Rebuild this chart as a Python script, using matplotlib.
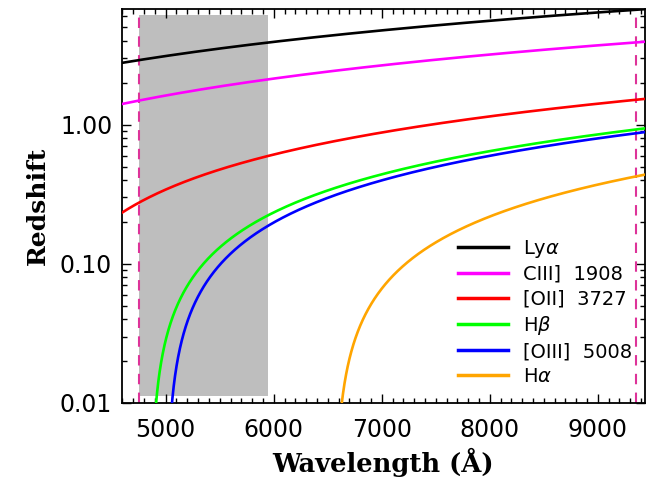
import numpy as np
import matplotlib
matplotlib.use("Agg")
import matplotlib.pyplot as plt
from matplotlib.ticker import FixedLocator, LogLocator, NullFormatter, FuncFormatter

# ---- data ----
line_labels = [r"Ly$\alpha$", "CIII]  1908", "[OII]  3727", r"H$\beta$", "[OIII]  5008", r"H$\alpha$"]
rest_wavelengths = [1215.67, 1908.73, 3727.09, 4862.68, 5008.24, 6564.61]
line_colors = ["black", "#FF00FF", "#FF0000", "#00FF00", "#0000FF", "#FFA500"]

x_limits = [4595, 9435]
y_limits = [0.01, 6.77]
instrument_range = [4750, 9350]       # dashed vertical lines
gray_band_x = [4750, 5950]
gray_band_y = [0.0113, 6.15]
x_ticks = [5000, 6000, 7000, 8000, 9000]
y_ticks = [0.01, 0.10, 1.00]

plt.rcParams["mathtext.fontset"] = "dejavusans"
fig = plt.figure(figsize=(6.52, 4.78), dpi=100)
ax = fig.add_axes([0.187, 0.157, 0.802, 0.824])

ax.fill_between(gray_band_x, gray_band_y[0], gray_band_y[1], color="#BEBEBE", lw=0, zorder=1)

wl = np.linspace(x_limits[0], x_limits[1], 2000)
handles = []
for lab, rest, col in zip(line_labels, rest_wavelengths, line_colors):
    z = wl / rest - 1.0
    z = np.where(z > 0, z, np.nan)
    h, = ax.plot(wl, z, color=col, lw=1.9, label=lab, zorder=3)
    handles.append(h)

for xv in instrument_range:
    ax.axvline(xv, color="#DD3399", lw=1.5, ls=(0, (5, 4)), zorder=2)

ax.set_yscale("log")
ax.set_xlim(x_limits)
ax.set_ylim(y_limits)

ax.xaxis.set_major_locator(FixedLocator(x_ticks))
ax.xaxis.set_minor_locator(FixedLocator(np.arange(4600, 9500, 100)))
ax.yaxis.set_major_locator(FixedLocator(y_ticks))
ax.yaxis.set_minor_locator(LogLocator(base=10, subs=np.arange(2, 10)))
ax.yaxis.set_minor_formatter(NullFormatter())
ax.yaxis.set_major_formatter(FuncFormatter(lambda v, p: f"{v:.2f}"))

ax.tick_params(which="both", direction="in", top=True, right=True, width=1.0, color="black")
ax.tick_params(which="major", length=6.5)
ax.tick_params(which="minor", length=3.5)
ax.tick_params(axis="x", which="major", pad=11, labelsize=17)
ax.tick_params(axis="y", which="major", pad=7, labelsize=17)
for lbl in ax.get_xticklabels() + ax.get_yticklabels():
    lbl.set_fontfamily("DejaVu Sans")
    lbl.set_color("black")

for s in ax.spines.values():
    s.set_linewidth(1.3)

ax.set_xlabel("Wavelength (Å)", fontfamily="DejaVu Serif", fontweight="bold", fontsize=18.5, labelpad=4)
ax.set_ylabel("Redshift", fontfamily="DejaVu Serif", fontweight="bold", fontsize=18, labelpad=7)

leg = ax.legend(handles=handles, loc="upper left", bbox_to_anchor=(0.642, 0.42),
                frameon=False, fontsize=14, handlelength=2.6, handletextpad=0.75,
                labelspacing=0.28, borderpad=0, borderaxespad=0)
for h in leg.get_lines():
    h.set_linewidth(2.5)

fig.savefig("out.png", dpi=100)
